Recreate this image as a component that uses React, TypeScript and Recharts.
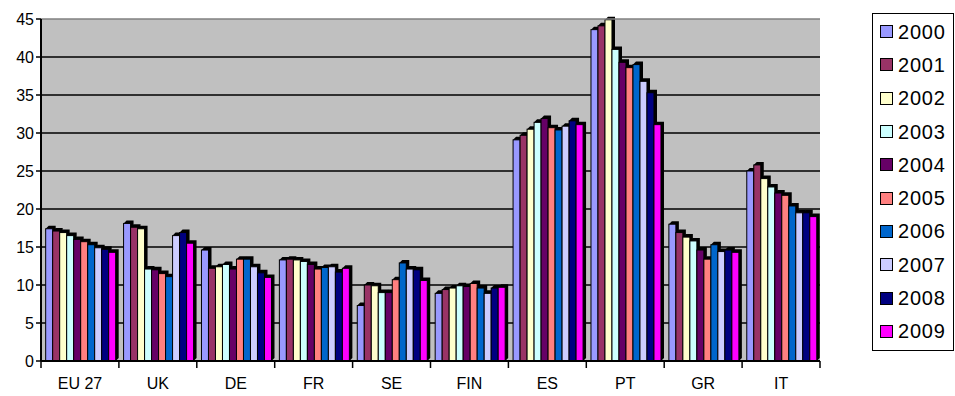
import React from 'react'
import {
  BarChart,
  Bar,
  XAxis,
  YAxis,
  CartesianGrid,
  ReferenceLine,
} from 'recharts'

const countries = ['EU 27', 'UK', 'DE', 'FR', 'SE', 'FIN', 'ES', 'PT', 'GR', 'IT']
const years = ['2000', '2001', '2002', '2003', '2004', '2005', '2006', '2007', '2008', '2009']
const colors = ['#9999FF', '#993366', '#FFFFCC', '#CCFFFF', '#660066', '#FF8080', '#0066CC', '#CCCCFF', '#000080', '#FF00FF']
const yTicks = [0, 5, 10, 15, 20, 25, 30, 35, 40, 45]

// one array per year, in the order of `countries`
const y2000 = [17.4, 18.1, 14.6, 13.3, 7.3, 8.9, 29.1, 43.6, 18.0, 25.0]
const y2001 = [17.1, 17.6, 12.2, 13.4, 10.0, 9.4, 29.7, 44.1, 16.9, 25.8]
const y2002 = [16.9, 17.4, 12.4, 13.3, 9.9, 9.6, 30.5, 44.9, 16.3, 24.0]
const y2003 = [16.5, 12.1, 12.7, 13.1, 9.0, 9.9, 31.4, 41.0, 15.8, 22.9]
const y2004 = [16.0, 12.0, 12.1, 12.7, 9.0, 9.8, 31.9, 39.3, 14.6, 22.1]
const y2005 = [15.7, 11.5, 13.4, 12.1, 10.7, 10.2, 30.7, 38.6, 13.4, 21.8]
const y2006 = [15.3, 11.1, 13.4, 12.3, 12.9, 9.6, 30.4, 39.0, 15.3, 20.4]
const y2007 = [14.9, 16.5, 12.4, 12.4, 12.1, 8.9, 30.9, 36.8, 14.4, 19.5]
const y2008 = [14.7, 16.9, 11.6, 11.7, 12.0, 9.6, 31.6, 35.3, 14.6, 19.5]
const y2009 = [14.3, 15.5, 11.0, 12.2, 10.6, 9.7, 31.1, 31.1, 14.3, 19.0]
const series = [y2000, y2001, y2002, y2003, y2004, y2005, y2006, y2007, y2008, y2009]

const data = countries.map((c, i) => {
  const row: Record<string, string | number> = { country: c }
  years.forEach((yr, j) => {
    row[yr] = series[j][i]
  })
  return row
})

const FONT = '"Liberation Sans", Arial, sans-serif'
const DEPTH = 3

const Bar3D = (props: any) => {
  const { x, y, width, height, fill } = props
  if (height == null || height <= 0) return null
  const pts = [
    [x, y],
    [x + DEPTH, y - DEPTH],
    [x + width + DEPTH, y - DEPTH],
    [x + width + DEPTH, y + height - DEPTH],
    [x + width, y + height],
  ]
    .map((p) => p.join(','))
    .join(' ')
  return (
    <g>
      <polygon points={pts} fill="#000" />
      <rect x={x} y={y} width={width} height={height} fill={fill} stroke="#000" strokeWidth={1} />
    </g>
  )
}

const CatTick = (props: any) => {
  const { x, y, payload, index } = props
  const half = payload?.offset || 39
  return (
    <g>
      <line x1={x - half} y1={y} x2={x - half} y2={y + 7} stroke="#000" strokeWidth={1.5} />
      {index === countries.length - 1 && (
        <line x1={x + half} y1={y} x2={x + half} y2={y + 7} stroke="#000" strokeWidth={1.5} />
      )}
      <text x={x} y={y + 28} textAnchor="middle" fill="#000" fontSize={16} fontFamily={FONT}>
        {payload.value}
      </text>
    </g>
  )
}

const LegendBox = () => (
  <div
    style={{
      position: 'absolute',
      left: 872,
      top: 13,
      width: 82,
      height: 338,
      border: '1px solid #000',
      background: '#fff',
      boxSizing: 'border-box',
      fontFamily: FONT,
    }}
  >
    {years.map((yr, i) => (
      <div
        key={yr}
        style={{
          position: 'absolute',
          left: 7,
          top: 1 + i * 33.3,
          height: 33.3,
          display: 'flex',
          alignItems: 'center',
        }}
      >
        <span
          style={{
            display: 'inline-block',
            width: 11,
            height: 11,
            background: colors[i],
            border: '1.5px solid #000',
            marginRight: 5,
          }}
        />
        <span style={{ fontSize: 20, color: '#000', lineHeight: 1, letterSpacing: 0.8 }}>{yr}</span>
      </div>
    ))}
  </div>
)

export default function App() {
  return (
    <div style={{ position: 'absolute', left: 0, top: 0, width: 955, height: 396, background: '#fff' }}>
      <BarChart
        width={955}
        height={396}
        data={data}
        margin={{ top: 19, right: 135, bottom: 0, left: 0 }}
        barCategoryGap="6%"
        barGap={0}
      >
        <CartesianGrid
          horizontal
          vertical={false}
          fill="#C0C0C0"
          fillOpacity={1}
          stroke="#000"
          strokeWidth={1.5}
          horizontalValues={[5, 10, 15, 20, 25, 30, 35, 40]}
        />
        <ReferenceLine y={45} stroke="#808080" strokeWidth={1.5} />
        <XAxis
          dataKey="country"
          height={35}
          tickLine={false}
          tickSize={0}
          tickMargin={0}
          axisLine={{ stroke: '#000', strokeWidth: 2 }}
          tick={<CatTick />}
          interval={0}
        />
        <YAxis
          width={41}
          domain={[0, 45]}
          ticks={yTicks}
          interval={0}
          tickSize={5}
          tickMargin={2}
          axisLine={{ stroke: '#000', strokeWidth: 2 }}
          tickLine={{ stroke: '#000', strokeWidth: 1.5 }}
          tick={{ fill: '#000', fontSize: 16, fontFamily: FONT }}
        />
        {years.map((yr, i) => (
          <Bar key={yr} dataKey={yr} fill={colors[i]} shape={<Bar3D />} isAnimationActive={false} />
        ))}
      </BarChart>
      <LegendBox />
    </div>
  )
}
